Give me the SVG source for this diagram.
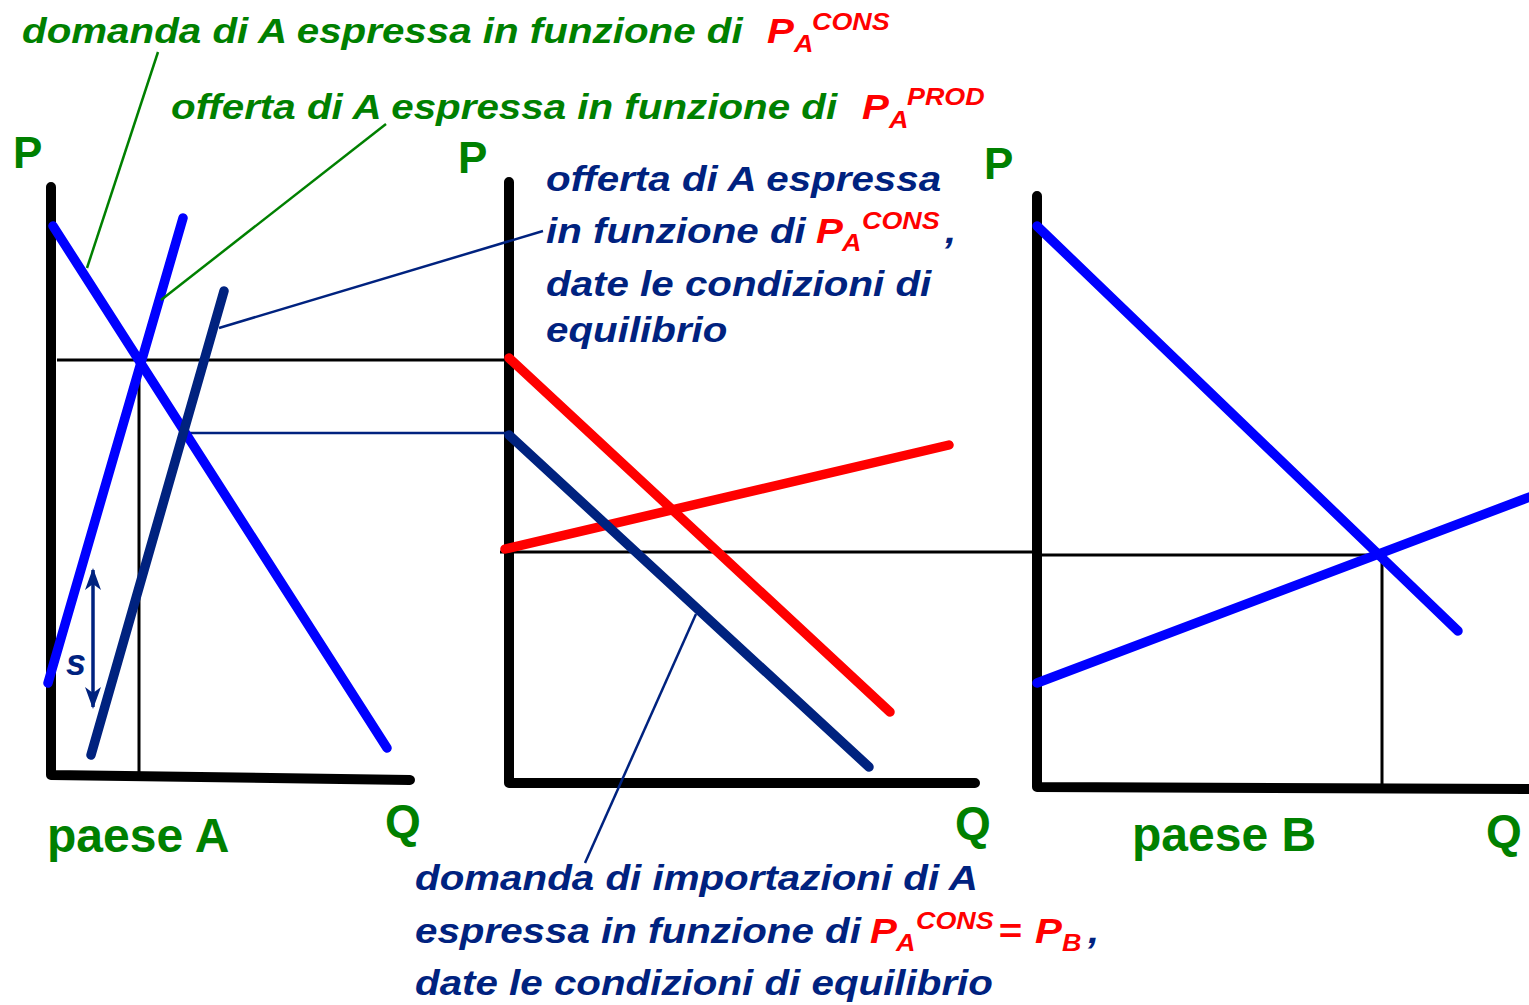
<svg xmlns="http://www.w3.org/2000/svg" width="1529" height="1005" viewBox="0 0 1529 1005">
<style>
.it{font-family:"Liberation Sans",Arial,sans-serif;font-weight:bold;font-style:italic;font-size:36px}
.sm{font-family:"Liberation Sans",Arial,sans-serif;font-weight:bold;font-style:italic;font-size:24px}
.lab{font-family:"Liberation Sans",Arial,sans-serif;font-weight:bold;font-size:44px;fill:#008000}
.big{font-size:48px}
.g{fill:#008000}.r{fill:#ff0000}.n{fill:#00227f}
.axis{fill:none;stroke:#000;stroke-width:10;stroke-linejoin:round;stroke-linecap:round}
.curve{fill:none;stroke-width:9.5;stroke-linecap:round}
.thin{fill:none;stroke:#000;stroke-width:3}
</style>
<defs>
<marker id="ah" viewBox="0 0 22 16" refX="20" refY="8" markerWidth="22" markerHeight="16" markerUnits="userSpaceOnUse" orient="auto-start-reverse">
<path d="M0,0 L22,8 L0,16 L6,8 Z" fill="#00227f"/>
</marker>
</defs>
<rect width="1529" height="1005" fill="#fff"/>

<g id="axes">
<path class="axis" d="M51,187 L51,775 L410,780"/>
<path class="axis" d="M509,182 L509,783 L975,783"/>
<path class="axis" d="M1037,196 L1037,787 L1529,789"/>
</g>

<g id="guides">
<path class="thin" d="M57,360 L509,360"/>
<path class="thin" d="M139,360 L139,775"/>
<path d="M185,433 L509,433" fill="none" stroke="#00227f" stroke-width="2.5"/>
<path class="thin" d="M500,552 L1037,552"/>
<path class="thin" d="M1040,555 L1382,555 L1382,787"/>
</g>

<g id="curves">
<path class="curve" stroke="#0000ff" d="M53,226 L387,748"/>
<path class="curve" stroke="#0000ff" d="M183,218 L48,683"/>
<path class="curve" stroke="#00227f" d="M224,291 L91,755"/>
<path class="curve" stroke="#ff0000" d="M509,358 L890,712"/>
<path class="curve" stroke="#ff0000" d="M505,549 L949,445"/>
<path class="curve" stroke="#00227f" d="M509,435 L869,767"/>
<path class="curve" stroke="#0000ff" d="M1037,226 L1458,631"/>
<path class="curve" stroke="#0000ff" d="M1037,683 L1535,495"/>
</g>

<g id="connectors">
<path d="M158,52 L87,268" fill="none" stroke="#008000" stroke-width="2.5"/>
<path d="M386,124 L161,300" fill="none" stroke="#008000" stroke-width="2.5"/>
<path d="M543,231 L219,328" fill="none" stroke="#00227f" stroke-width="2.5"/>
<path d="M696,614 L585,863" fill="none" stroke="#00227f" stroke-width="2.5"/>
<path d="M93,570 L93,707" fill="none" stroke="#00227f" stroke-width="3.5" marker-start="url(#ah)" marker-end="url(#ah)"/>
</g>

<g id="labels">
<text class="lab" x="13" y="168">P</text>
<text class="lab" x="458" y="173">P</text>
<text class="lab" x="984" y="179">P</text>
<text class="lab" x="385" y="837" style="font-size:46px">Q</text>
<text class="lab" x="955" y="839" style="font-size:46px">Q</text>
<text class="lab" x="1486" y="847" style="font-size:46px">Q</text>
<text class="lab big" x="47" y="852">paese A</text>
<text class="lab big" x="1132" y="851">paese B</text>
<text class="n" x="66" y="675" style="font-family:'Liberation Sans',Arial,sans-serif;font-weight:bold;font-style:italic;font-size:36px">s</text>
</g>

<g id="text-domanda">
<text class="it g" transform="translate(22,43) scale(1.12,1)">domanda di A espressa in funzione di</text>
<text class="it r" transform="translate(767,43) scale(1.12,1)">P</text>
<text class="sm r" transform="translate(794,52) scale(1.12,1)">A</text>
<text class="sm r" transform="translate(812,30) scale(1.12,1)">CONS</text>
</g>

<g id="text-offerta">
<text class="it g" transform="translate(171,119) scale(1.12,1)">offerta di A espressa in funzione di</text>
<text class="it r" transform="translate(862,119) scale(1.12,1)">P</text>
<text class="sm r" transform="translate(889,128) scale(1.12,1)">A</text>
<text class="sm r" transform="translate(907,105) scale(1.12,1)">PROD</text>
</g>

<g id="text-offerta-cons">
<text class="it n" transform="translate(546,191) scale(1.12,1)">offerta di A espressa</text>
<text class="it n" transform="translate(546,243) scale(1.12,1)">in funzione di</text>
<text class="it r" transform="translate(816,243) scale(1.12,1)">P</text>
<text class="sm r" transform="translate(842,251) scale(1.12,1)">A</text>
<text class="sm r" transform="translate(862,229) scale(1.12,1)">CONS</text>
<text class="it n" transform="translate(945,243) scale(1.12,1)">,</text>
<text class="it n" transform="translate(546,296) scale(1.12,1)">date le condizioni di</text>
<text class="it n" transform="translate(546,342) scale(1.12,1)">equilibrio</text>
</g>

<g id="text-importazioni">
<text class="it n" transform="translate(415,890) scale(1.12,1)">domanda di importazioni di A</text>
<text class="it n" transform="translate(415,943) scale(1.12,1)">espressa in funzione di</text>
<text class="it r" transform="translate(870,943) scale(1.12,1)">P</text>
<text class="sm r" transform="translate(896,951) scale(1.12,1)">A</text>
<text class="sm r" transform="translate(916,929) scale(1.12,1)">CONS</text>
<text class="it r" transform="translate(998,943) scale(1.12,1)">=</text>
<text class="it r" transform="translate(1035,943) scale(1.12,1)">P</text>
<text class="sm r" transform="translate(1062,951) scale(1.12,1)">B</text>
<text class="it n" transform="translate(1088,943) scale(1.12,1)">,</text>
<text class="it n" transform="translate(415,995) scale(1.12,1)">date le condizioni di equilibrio</text>
</g>
</svg>
